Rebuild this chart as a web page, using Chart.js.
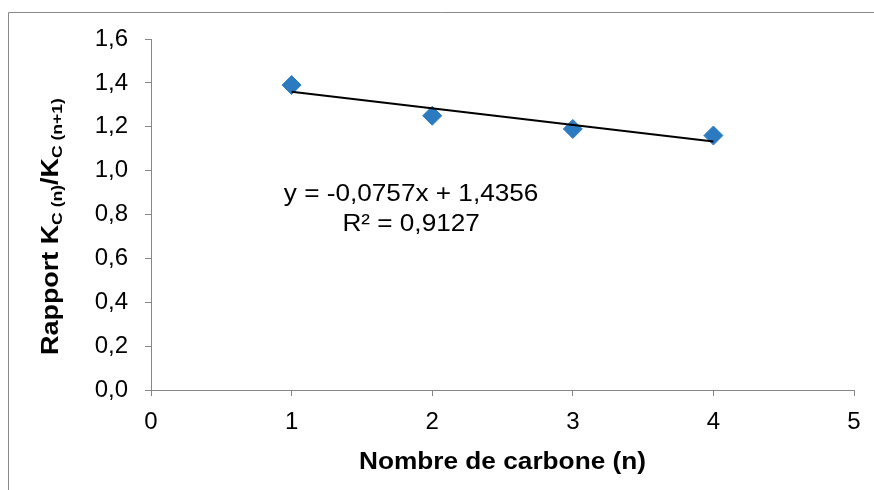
<!DOCTYPE html>
<html>
<head>
<meta charset="utf-8">
<script src="https://cdn.jsdelivr.net/npm/chart.js@4/dist/chart.umd.min.js"></script>
<style>
  html, body { margin: 0; padding: 0; background: #fff; }
  #wrap { width: 874px; height: 490px; }
</style>
</head>
<body>
<div id="wrap"><canvas id="chart" width="874" height="490"></canvas></div>
<script>
// ---- données ----
const carbonN = [1, 2, 3, 4];
const ratioK = [1.39, 1.25, 1.19, 1.16];
const trendSlope = -0.0757;
const trendIntercept = 1.4356;
const trendR2 = '0,9127';
const yTicksMax = 1.6;
const xTicksMax = 5;

const FONT = "'Liberation Sans', Arial, sans-serif";
const AXIS_GREY = '#868686';

const fmt = v => v.toString().replace('.', ',');

// droite de tendance entre le premier et le dernier point
const trendPts = [carbonN[0], carbonN[carbonN.length - 1]].map(x => ({
    x, y: trendIntercept + trendSlope * x
}));

// texte étiré horizontalement (rendu Excel plus large qu'Arial)
function stretchedText(ctx, txt, cx, y, sx) {
    const w = ctx.measureText(txt).width * sx;
    ctx.save();
    ctx.translate(cx - w / 2, y);
    ctx.scale(sx, 1);
    ctx.textAlign = 'left';
    ctx.fillText(txt, 0, 0);
    ctx.restore();
}

const annotPlugin = {
    id: 'annot',
    afterDraw(chart) {
        const ctx = chart.ctx;
        const xs = chart.scales.x, ys = chart.scales.y;

        // cadre extérieur
        ctx.save();
        ctx.strokeStyle = '#898989';
        ctx.lineWidth = 1;
        ctx.beginPath();
        ctx.moveTo(8.5, 490);
        ctx.lineTo(8.5, 12.5);
        ctx.lineTo(874, 12.5);
        ctx.stroke();
        ctx.restore();

        ctx.save();
        ctx.fillStyle = '#000';
        ctx.textBaseline = 'alphabetic';

        // équation de la tendance
        ctx.font = `24px ${FONT}`;
        const ex = xs.getPixelForValue(1.85);
        const ey = ys.getPixelForValue(0.86);
        stretchedText(ctx, `y = ${fmt(trendSlope)}x + ${fmt(trendIntercept)}`, ex, ey, 1.09);
        stretchedText(ctx, `R² = ${trendR2}`, ex, ey + 30, 1.09);

        // titre axe X
        ctx.font = `bold 23px ${FONT}`;
        stretchedText(ctx, 'Nombre de carbone (n)', (xs.left + xs.right) / 2, 469, 1.14);

        // titre axe Y avec indices
        const parts = [
            { t: 'Rapport K', sub: false },
            { t: 'C (n)', sub: true },
            { t: '/K', sub: false },
            { t: 'C (n+1)', sub: true },
        ];
        const sx = 1.17;
        let total = 0;
        parts.forEach(p => {
            ctx.font = p.sub ? `bold 15px ${FONT}` : `bold 23px ${FONT}`;
            p.w = ctx.measureText(p.t).width;
            total += p.w;
        });
        const midY = (ys.top + ys.bottom) / 2 + 12;
        ctx.translate(58, midY + total * sx / 2);
        ctx.rotate(-Math.PI / 2);
        ctx.scale(sx, 1);
        ctx.textAlign = 'left';
        let cx = 0;
        parts.forEach(p => {
            ctx.font = p.sub ? `bold 15px ${FONT}` : `bold 23px ${FONT}`;
            ctx.fillText(p.t, cx, p.sub ? 4 : 0);
            cx += p.w;
        });
        ctx.restore();
    }
};

new Chart(document.getElementById('chart'), {
    type: 'scatter',
    data: {
        datasets: [
            {
                label: 'Tendance',
                data: trendPts,
                showLine: true,
                borderColor: '#000',
                borderWidth: 2,
                pointRadius: 0,
                pointHoverRadius: 0,
                order: 0,
            },
            {
                label: 'Rapport',
                data: carbonN.map((x, i) => ({ x, y: ratioK[i] })),
                pointStyle: 'rectRot',
                pointRadius: 9.5,
                pointBackgroundColor: '#2C7BC0',
                pointBorderColor: '#2C7BC0',
                pointBorderWidth: 1,
                order: 1,
            }
        ]
    },
    options: {
        responsive: false,
        animation: false,
        layout: { padding: { left: 0, top: 39, right: 20, bottom: 0 } },
        plugins: {
            legend: { display: false },
            tooltip: { enabled: false },
        },
        scales: {
            x: {
                type: 'linear',
                min: 0, max: xTicksMax,
                afterFit: s => { s.height = 100; },
                ticks: {
                    stepSize: 1,
                    padding: 12,
                    color: '#000',
                    font: { family: FONT, size: 24 },
                    callback: v => fmt(v),
                },
                grid: { drawOnChartArea: false, drawTicks: true, tickLength: 6, color: AXIS_GREY },
                border: { color: AXIS_GREY, width: 1 },
            },
            y: {
                min: 0, max: yTicksMax,
                afterFit: s => { s.width = 151; },
                ticks: {
                    stepSize: 0.2,
                    padding: 17,
                    color: '#000',
                    font: { family: FONT, size: 24 },
                    callback: v => v.toFixed(1).replace('.', ','),
                },
                grid: { drawOnChartArea: false, drawTicks: true, tickLength: 6, color: AXIS_GREY },
                border: { color: AXIS_GREY, width: 1 },
            }
        }
    },
    plugins: [annotPlugin]
});
</script>
</body>
</html>
